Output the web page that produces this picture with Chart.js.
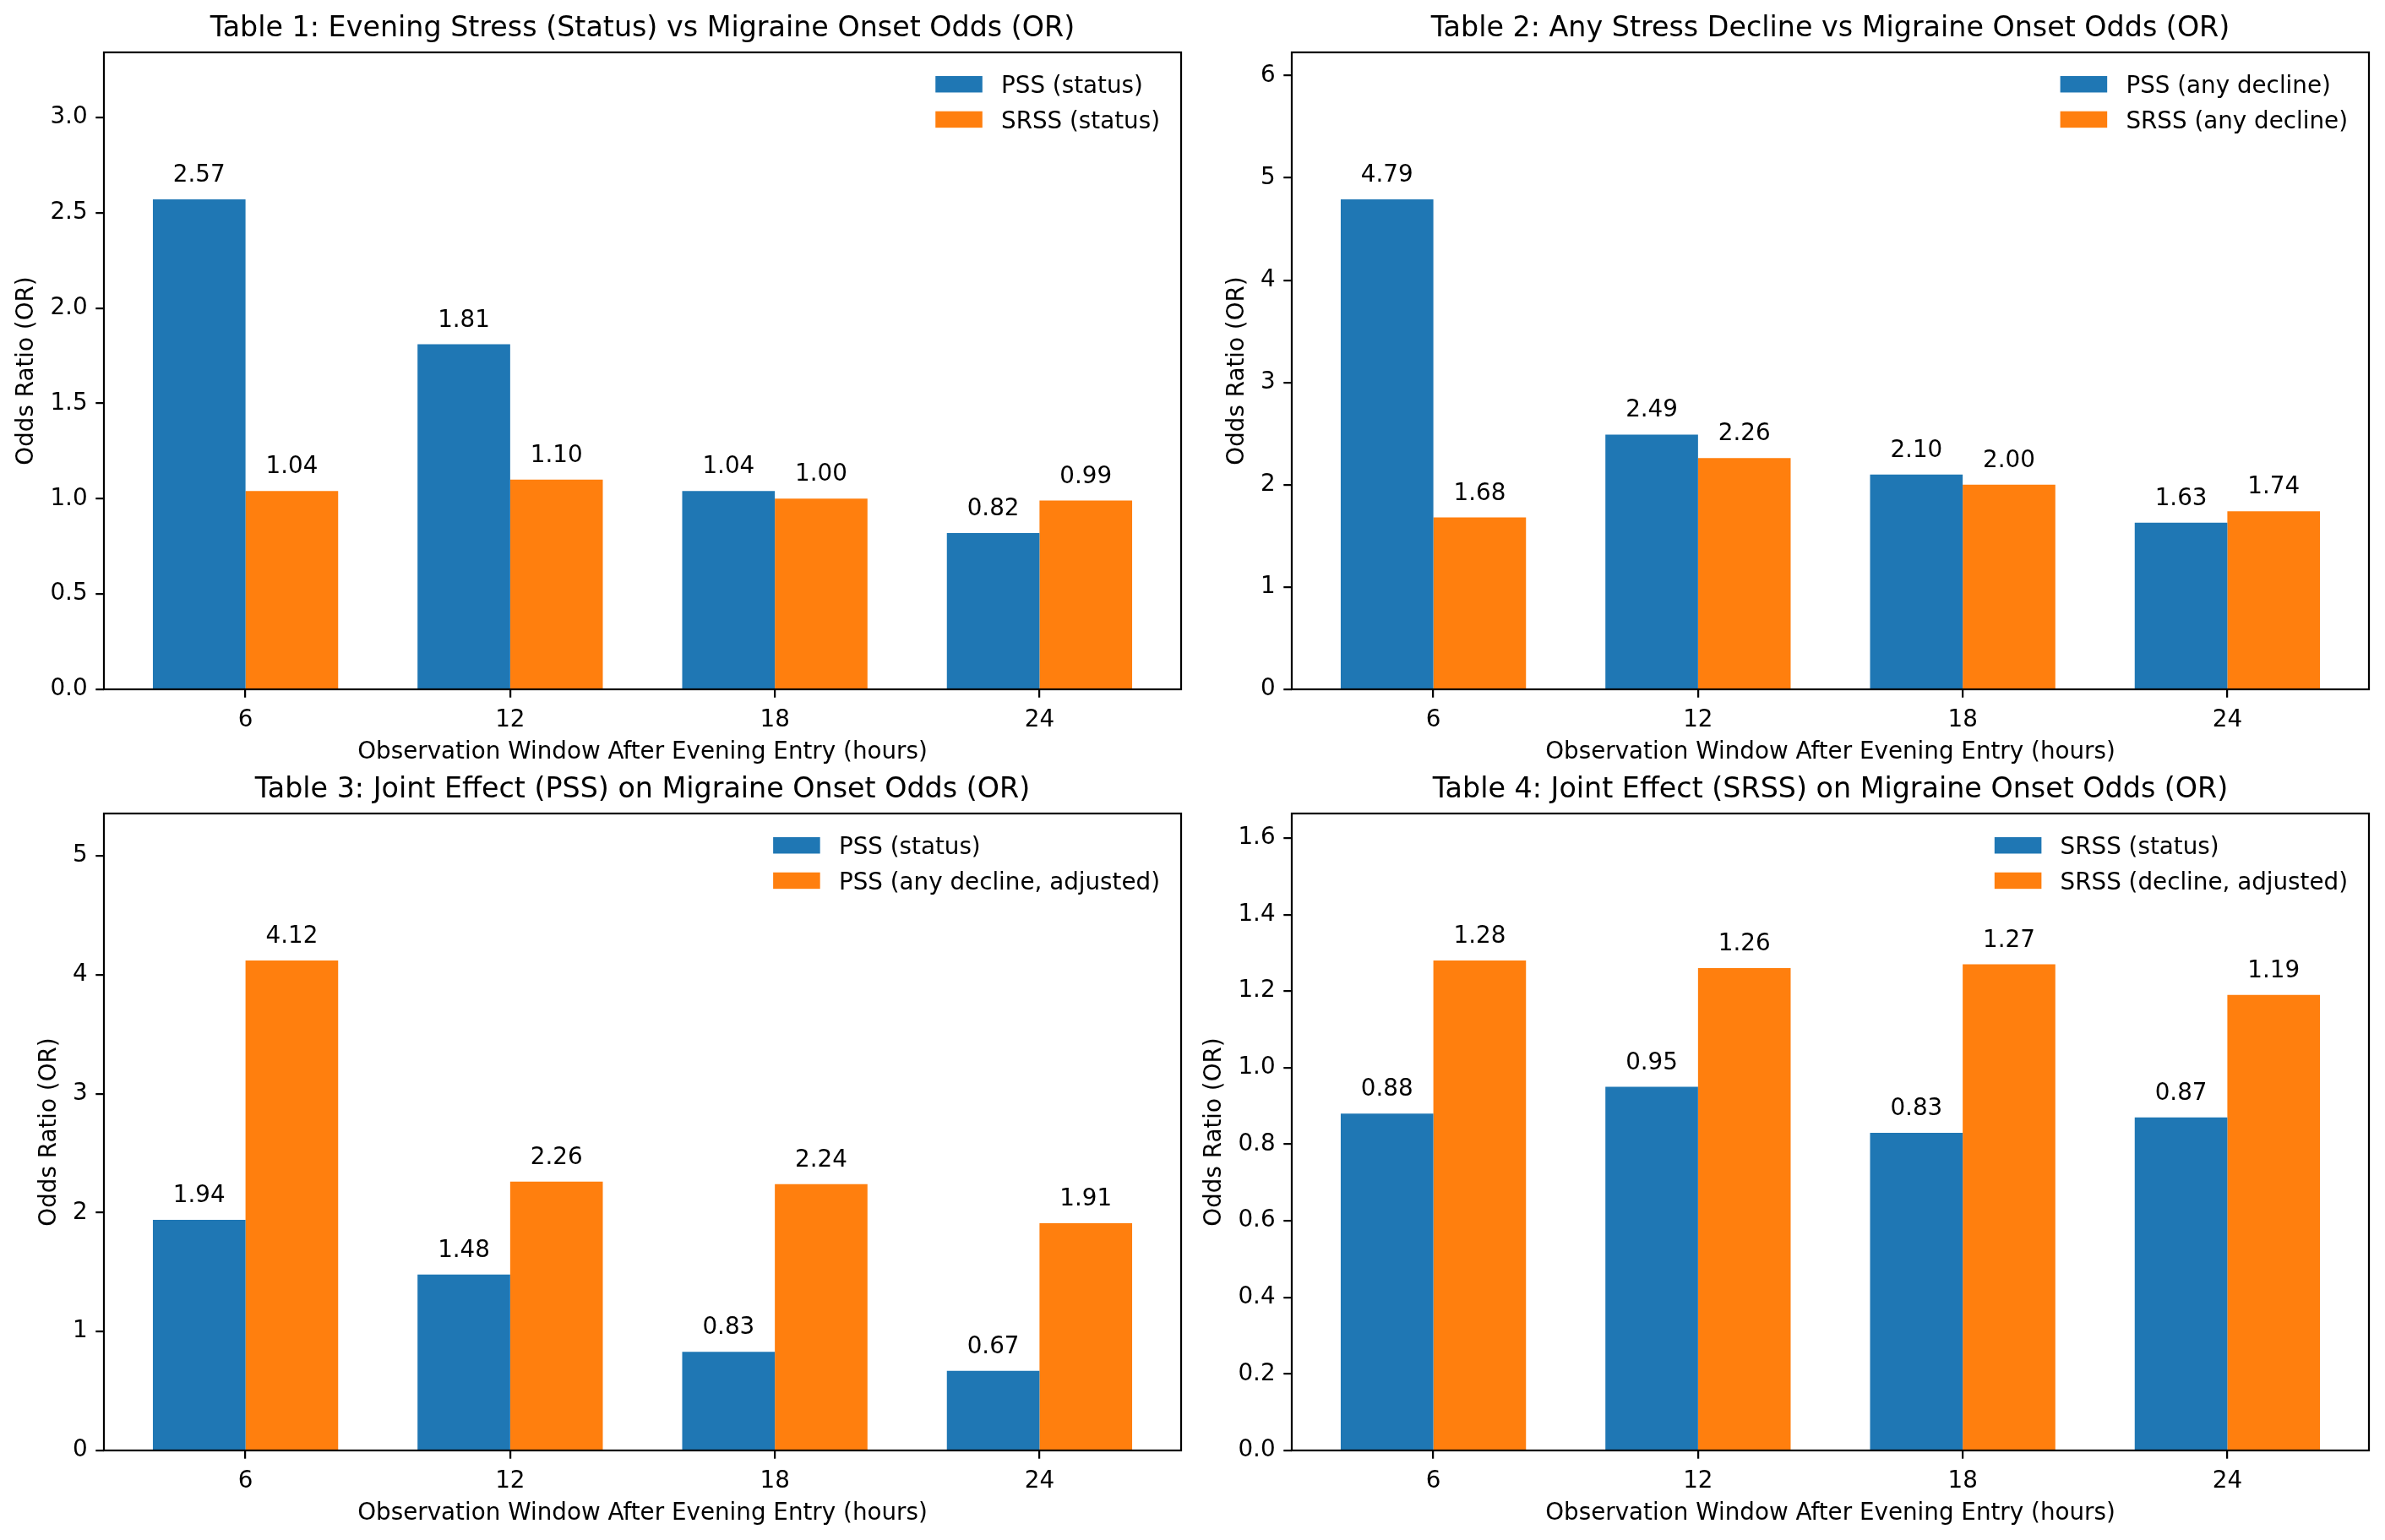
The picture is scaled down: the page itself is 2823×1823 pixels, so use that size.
<!DOCTYPE html>
<html lang="en">
<head>
<meta charset="UTF-8">
<title>Migraine Onset Odds</title>
<script src="https://cdn.jsdelivr.net/npm/chart.js@4"></script>
<style>
  html, body { margin: 0; padding: 0; background: #fff; }
  #fig { position: relative; width: 2823px; height: 1823px; overflow: hidden; background: #fff; }
  #fig canvas { position: absolute; width: 1411px; height: 911px; }
</style>
</head>
<body>
<div id="fig">
  <canvas id="c1" width="1411" height="911" style="left:0px;top:0px"></canvas>
  <canvas id="c2" width="1411" height="911" style="left:1406px;top:0px"></canvas>
  <canvas id="c3" width="1411" height="911" style="left:0px;top:901px"></canvas>
  <canvas id="c4" width="1411" height="911" style="left:1406px;top:901px"></canvas>
</div>
<script>
// observation windows (hours)
const hours = [6, 12, 18, 24];

// Table 1: status
const t1Pss  = [2.57, 1.81, 1.04, 0.82];
const t1Srss = [1.04, 1.10, 1.00, 0.99];
// Table 2: any decline
const t2Pss  = [4.79, 2.49, 2.10, 1.63];
const t2Srss = [1.68, 2.26, 2.00, 1.74];
// Table 3: joint PSS
const t3Status  = [1.94, 1.48, 0.83, 0.67];
const t3Decline = [4.12, 2.26, 2.24, 1.91];
// Table 4: joint SRSS
const t4Status  = [0.88, 0.95, 0.83, 0.87];
const t4Decline = [1.28, 1.26, 1.27, 1.19];

const PT = 200 / 72;
const BLUE = '#1f77b4';
const ORANGE = '#ff7f0e';
const FONT = '"DejaVu Sans", sans-serif';

Chart.defaults.font.family = FONT;
Chart.defaults.font.size = 10 * PT;
Chart.defaults.color = '#000';

// value labels, axes frame and the legend inside the plot
const frame = {
  id: 'frame',
  afterDatasetsDraw(chart) {
    const ctx = chart.ctx;
    const a = chart.chartArea;
    ctx.save();
    ctx.font = (10 * PT) + 'px ' + FONT;
    ctx.fillStyle = '#000';
    ctx.textAlign = 'center';
    ctx.textBaseline = 'alphabetic';
    chart.data.datasets.forEach((ds, d) => {
      chart.getDatasetMeta(d).data.forEach((bar, i) => {
        ctx.fillText(ds.data[i].toFixed(2), bar.x, bar.y - 21);
      });
    });

    ctx.lineWidth = 0.8 * PT;
    ctx.strokeStyle = '#000';
    ctx.strokeRect(a.left, a.top, a.width, a.height);

    const names = chart.data.datasets.map(ds => ds.label);
    const maxW = Math.max(...names.map(t => ctx.measureText(t).width));
    const tx = a.right - 0.9 * 10 * PT - maxW;
    const hx = tx - 0.8 * 10 * PT - 2 * 10 * PT;
    ctx.textAlign = 'left';
    chart.data.datasets.forEach((ds, d) => {
      const cy = a.top + 37.75 + d * 41.7;
      ctx.fillStyle = ds.backgroundColor;
      ctx.fillRect(hx, cy - 0.35 * 10 * PT, 2 * 10 * PT, 0.7 * 10 * PT);
      ctx.fillStyle = '#000';
      ctx.fillText(ds.label, tx, cy + 10.1);
    });
    ctx.restore();
  }
};

function makeChart(id, title, names, series, yStep, yDigits, yTitlePad) {
  const step = hours[1] - hours[0];
  const pad = 0.535 * step;
  const yMax = Math.max(...series[0], ...series[1]) * 1.3;
  const tickGrid = {
    drawOnChartArea: false,
    drawTicks: true,
    tickLength: 3.5 * PT,
    color: '#000',
    lineWidth: 0.8 * PT,
    offset: false
  };
  return new Chart(document.getElementById(id), {
    type: 'bar',
    data: {
      labels: hours,
      datasets: series.map((s, k) => ({
        label: names[k],
        data: s,
        backgroundColor: k === 0 ? BLUE : ORANGE,
        borderWidth: 0,
        categoryPercentage: 0.7,
        barPercentage: 1.0
      }))
    },
    options: {
      responsive: false,
      animation: false,
      devicePixelRatio: 1,
      layout: { padding: { left: 0, right: 13, top: 0, bottom: 0 } },
      plugins: {
        legend: { display: false },
        tooltip: { enabled: false },
        title: {
          display: true,
          text: title,
          fullSize: false,
          color: '#000',
          font: { size: 12 * PT, weight: 'normal' },
          padding: { top: 14, bottom: 8 }
        }
      },
      scales: {
        x: {
          type: 'linear',
          offset: false,
          min: hours[0] - pad,
          max: hours[hours.length - 1] + pad,
          ticks: { stepSize: step, includeBounds: false, padding: 10, maxRotation: 0, autoSkip: false },
          grid: tickGrid,
          border: { display: false },
          title: {
            display: true,
            text: 'Observation Window After Evening Entry (hours)',
            padding: { top: 0, bottom: 4 }
          },
          afterFit: s => { s.height = 95; }
        },
        y: {
          min: 0,
          max: yMax,
          ticks: {
            stepSize: yStep,
            includeBounds: false,
            padding: 3.5 * PT,
            callback: v => v.toFixed(yDigits)
          },
          grid: tickGrid,
          border: { display: false },
          title: {
            display: true,
            text: 'Odds Ratio (OR)',
            padding: { top: yTitlePad, bottom: 0 }
          },
          afterFit: s => { s.width = 123; }
        }
      }
    },
    plugins: [frame]
  });
}

makeChart('c1', 'Table 1: Evening Stress (Status) vs Migraine Onset Odds (OR)',
  ['PSS (status)', 'SRSS (status)'], [t1Pss, t1Srss], 0.5, 1, 15.3);
makeChart('c2', 'Table 2: Any Stress Decline vs Migraine Onset Odds (OR)',
  ['PSS (any decline)', 'SRSS (any decline)'], [t2Pss, t2Srss], 1, 0, 42.3);
makeChart('c3', 'Table 3: Joint Effect (PSS) on Migraine Onset Odds (OR)',
  ['PSS (status)', 'PSS (any decline, adjusted)'], [t3Status, t3Decline], 1, 0, 42.3);
makeChart('c4', 'Table 4: Joint Effect (SRSS) on Migraine Onset Odds (OR)',
  ['SRSS (status)', 'SRSS (decline, adjusted)'], [t4Status, t4Decline], 0.2, 1, 15.3);
</script>
</body>
</html>
